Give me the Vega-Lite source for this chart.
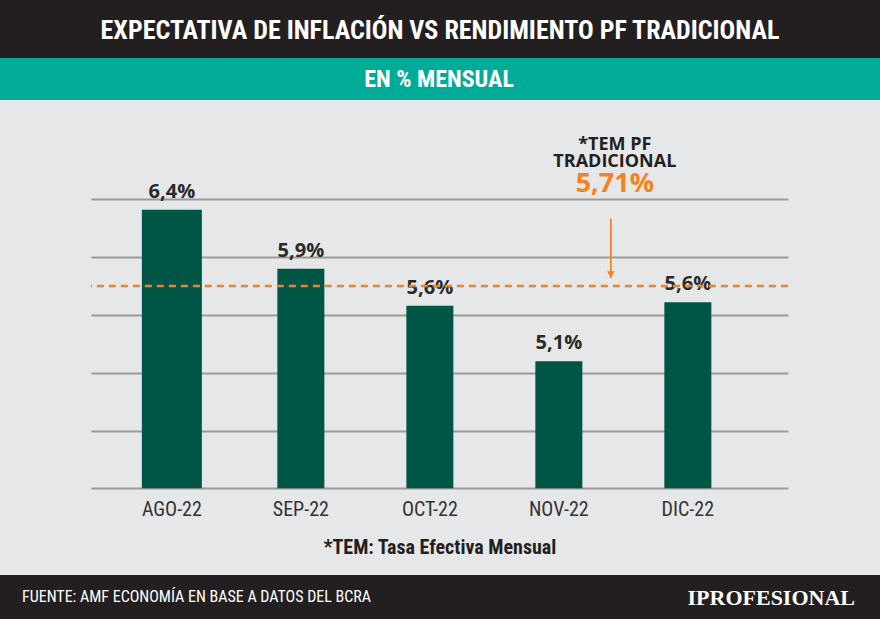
{
  "$schema": "https://vega.github.io/schema/vega-lite/v6.json",
  "background": "#e6e7e8",
  "padding": 0,
  "spacing": 0,
  "center": true,
  "config": {"view": {"stroke": null}},
  "vconcat": [
    {
      "width": 880,
      "height": 58,
      "view": {"fill": "#231f20", "stroke": null},
      "data": {"values": [{"titulo": "EXPECTATIVA DE INFLACIÓN VS RENDIMIENTO PF TRADICIONAL"}]},
      "mark": {"type": "text", "x": 440, "y": 31, "align": "center", "baseline": "middle", "font": "Roboto Condensed, DejaVu Sans Condensed, Roboto, sans-serif", "fontWeight": "bold", "fontSize": 26, "color": "#ffffff"},
      "encoding": {"text": {"field": "titulo"}}
    },
    {
      "width": 880,
      "height": 42,
      "view": {"fill": "#00ab97", "stroke": null},
      "data": {"values": [{"subtitulo": "EN % MENSUAL"}]},
      "mark": {"type": "text", "x": 439, "y": 22, "align": "center", "baseline": "middle", "font": "Roboto Condensed, DejaVu Sans Condensed, Roboto, sans-serif", "fontWeight": "bold", "fontSize": 24, "color": "#ffffff"},
      "encoding": {"text": {"field": "subtitulo"}}
    },
    {
      "width": 697,
      "height": 475,
      "data": {"values": [
        {"mes": "AGO-22", "valor": 6.41, "etiqueta": "6,4%"},
        {"mes": "SEP-22", "valor": 5.90, "etiqueta": "5,9%"},
        {"mes": "OCT-22", "valor": 5.58, "etiqueta": "5,6%"},
        {"mes": "NOV-22", "valor": 5.10, "etiqueta": "5,1%"},
        {"mes": "DIC-22", "valor": 5.61, "etiqueta": "5,6%"}
      ]},
      "layer": [
        {
          "mark": {"type": "bar", "color": "#005646"},
          "encoding": {
            "x": {"field": "mes", "type": "nominal", "sort": null,
              "scale": {"paddingInner": 0, "paddingOuter": 0.2016, "align": 0.317},
              "axis": {"orient": "bottom", "offset": -87, "domain": false, "ticks": false, "grid": false, "labelAngle": 0, "labelPadding": 11, "labelFont": "Roboto Condensed, DejaVu Sans Condensed, Roboto, sans-serif", "labelFontSize": 20, "labelColor": "#333333", "title": "*TEM: Tasa Efectiva Mensual", "titleFont": "Roboto Condensed, DejaVu Sans Condensed, Roboto, sans-serif", "titleFontSize": 20, "titleFontWeight": "bold", "titleColor": "#231f20", "titlePadding": 18}},
            "y": {"field": "valor", "type": "quantitative",
              "scale": {"domain": [3.25, 7.36], "zero": false, "nice": false},
              "axis": {"values": [4, 4.5, 5, 5.5, 6, 6.5], "grid": true, "gridColor": "#9a9a9a", "gridWidth": 2, "labels": false, "ticks": false, "domain": false, "title": null}},
            "y2": {"datum": 4},
            "size": {"condition": {"test": "datum.mes === 'AGO-22'", "value": 60}, "value": 47}
          }
        },
        {
          "mark": {"type": "text", "baseline": "alphabetic", "align": "center", "dy": -12, "font": "Open Sans", "fontWeight": "bold", "fontSize": 20, "color": "#2a2a2a"},
          "encoding": {
            "x": {"field": "mes", "type": "nominal", "sort": null},
            "y": {"field": "valor", "type": "quantitative", "title": null},
            "text": {"field": "etiqueta"}
          }
        },
        {
          "data": {"values": [{"tem": 5.75}]},
          "mark": {"type": "rule", "color": "#f58220", "strokeWidth": 2.5, "strokeDash": [7, 5]},
          "encoding": {"y": {"field": "tem", "type": "quantitative", "title": null}}
        },
        {
          "data": {"values": [{"nota": "*TEM PF\nTRADICIONAL"}]},
          "mark": {"type": "text", "lineBreak": "\n", "lineHeight": 17, "align": "center", "baseline": "alphabetic", "dx": 56, "font": "Open Sans", "fontWeight": "bold", "fontSize": 18, "color": "#231f20"},
          "encoding": {
            "x": {"datum": "NOV-22", "type": "nominal"},
            "y": {"datum": 6.927, "type": "quantitative"},
            "text": {"field": "nota"}
          }
        },
        {
          "data": {"values": [{"tasa": "5,71%"}]},
          "mark": {"type": "text", "align": "center", "baseline": "alphabetic", "dx": 56, "font": "Open Sans", "fontWeight": "bold", "fontSize": 27, "color": "#f58220"},
          "encoding": {
            "x": {"datum": "NOV-22", "type": "nominal"},
            "y": {"datum": 6.564, "type": "quantitative"},
            "text": {"field": "tasa"}
          }
        },
        {
          "data": {"values": [{"flecha": "TEM PF"}]},
          "mark": {"type": "rule", "color": "#f58220", "strokeWidth": 1.8, "xOffset": 52},
          "encoding": {
            "x": {"datum": "NOV-22", "type": "nominal"},
            "y": {"datum": 6.335, "type": "quantitative"},
            "y2": {"datum": 5.82}
          }
        },
        {
          "data": {"values": [{"flecha": "TEM PF"}]},
          "mark": {"type": "point", "shape": "triangle-down", "filled": true, "opacity": 1, "size": 60, "color": "#f58220", "xOffset": 52},
          "encoding": {
            "x": {"datum": "NOV-22", "type": "nominal"},
            "y": {"datum": 5.85, "type": "quantitative"}
          }
        }
      ]
    },
    {
      "width": 880,
      "height": 44,
      "view": {"fill": "#231f20", "stroke": null},
      "data": {"values": [{"fuente": "FUENTE: AMF ECONOMÍA EN BASE A DATOS DEL BCRA", "marca": "IPROFESIONAL"}]},
      "layer": [
        {
          "mark": {"type": "text", "x": 22, "y": 22, "align": "left", "baseline": "middle", "font": "Roboto Condensed, DejaVu Sans Condensed, Roboto, sans-serif", "fontSize": 16, "color": "#ffffff"},
          "encoding": {"text": {"field": "fuente"}}
        },
        {
          "mark": {"type": "text", "x": 855, "y": 23, "align": "right", "baseline": "middle", "font": "Liberation Serif", "fontWeight": "bold", "fontSize": 22, "color": "#ffffff"},
          "encoding": {"text": {"field": "marca"}}
        }
      ]
    }
  ]
}
